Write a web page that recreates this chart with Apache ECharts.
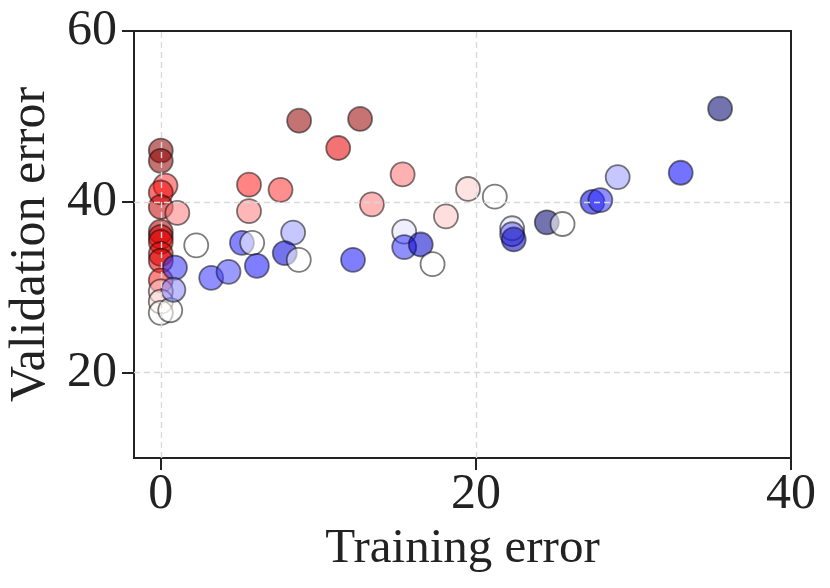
<!DOCTYPE html>
<html>
<head>
<meta charset="utf-8">
<script src="https://cdn.jsdelivr.net/npm/echarts@6/dist/echarts.min.js"></script>
<style>
  html, body { margin: 0; padding: 0; background: #fff; }
  #chart { width: 830px; height: 588px; }
</style>
</head>
<body>
<div id="chart"></div>
<script>
// training error, validation error, colour position on the seismic map (0 navy .. 0.5 white .. 1 dark red)
const trainErr = [
  0, 0, 0.3, 0, 0, 1.05, 0, 0, 0, 0, 0, 0, 0, 0, 0, 0.6, 0.9, 0.8,
  2.25, 3.2, 4.3, 5.15, 5.8, 6.1, 5.6, 5.6, 7.6, 8.78, 12.65, 11.26,
  15.35, 13.4, 19.5, 21.2, 18.1, 8.4, 7.87, 8.76, 12.2, 15.45, 15.45,
  16.5, 17.25, 35.5, 33.0, 29.0, 27.4, 27.9, 22.3, 22.3, 22.4, 24.5, 25.5
];
const validErr = [
  46.0, 44.8, 41.9, 41.1, 39.4, 38.7, 36.5, 35.9, 35.3, 33.9, 33.1, 30.8, 29.5, 28.3, 27.0, 27.3, 32.3, 29.7,
  34.9, 31.1, 31.8, 35.2, 35.2, 32.5, 42.0, 38.9, 41.4, 49.5, 49.7, 46.3,
  43.2, 39.7, 41.5, 40.6, 38.3, 36.4, 34.0, 33.2, 33.2, 36.5, 34.7,
  35.0, 32.7, 50.9, 43.4, 42.9, 40.0, 40.2, 36.9, 36.2, 35.6, 37.6, 37.4
];
const shade = [
  0.97, 0.96, 0.7, 0.78, 0.86, 0.63, 0.9, 0.82, 0.8, 0.8, 0.82, 0.72, 0.56, 0.53, 0.5, 0.5, 0.3, 0.38,
  0.5, 0.3, 0.32, 0.28, 0.5, 0.27, 0.72, 0.63, 0.7, 0.96, 0.95, 0.8,
  0.64, 0.63, 0.55, 0.5, 0.56, 0.4, 0.2, 0.5, 0.27, 0.47, 0.3,
  0.18, 0.5, 0.05, 0.25, 0.4, 0.22, 0.3, 0.47, 0.35, 0.15, 0.05, 0.5
];
const xTicks = [0, 20, 40];
const yTicks = [20, 40, 60];
const xGrid = [0, 20];
const yGrid = [20, 40];

const points = trainErr.map((x, i) => [x, validErr[i], shade[i]]);

const font = '"Liberation Serif", "DejaVu Serif", serif';
const ink = '#222';

let myChart = echarts.init(document.getElementById('chart'));
let option = {
    animation: false,
    textStyle: { fontFamily: font },
    grid: {
        left: 134, right: 39, top: 31, bottom: 130,
        outerBoundsMode: 'none',
        containLabel: false,
        show: true, borderColor: ink, borderWidth: 2, backgroundColor: 'transparent'
    },
    visualMap: {
        show: false,
        type: 'continuous',
        dimension: 2,
        min: 0,
        max: 1,
        seriesIndex: 1,
        inRange: { color: ['#00004c', '#0000ff', '#ffffff', '#ff0000', '#7f0000'] }
    },
    xAxis: {
        type: 'value',
        min: -1.7,
        max: 40,
        name: 'Training error',
        nameLocation: 'middle',
        nameGap: 60,
        nameTextStyle: { fontSize: 49, color: ink, fontFamily: font },
        axisLine: { show: true, onZero: false, lineStyle: { color: ink, width: 2 } },
        axisTick: { show: true, customValues: xTicks, length: 12, lineStyle: { color: ink, width: 2 } },
        axisLabel: { customValues: xTicks, fontSize: 50, color: ink, margin: 12, fontFamily: font },
        splitLine: { show: false }
    },
    yAxis: {
        type: 'value',
        min: 10,
        max: 60,
        name: 'Validation error',
        nameLocation: 'middle',
        nameGap: 78,
        nameTextStyle: { fontSize: 50, color: ink, fontFamily: font },
        axisLine: { show: true, onZero: false, lineStyle: { color: ink, width: 2 } },
        axisTick: { show: true, customValues: yTicks, length: 12, lineStyle: { color: ink, width: 2 } },
        axisLabel: { customValues: yTicks, fontSize: 50, color: ink, margin: 17, fontFamily: font },
        splitLine: { show: false }
    },
    series: [
        {
            // dashed grid lines
            type: 'scatter',
            data: [],
            z: 1,
            markLine: {
                silent: true,
                symbol: 'none',
                label: { show: false },
                lineStyle: { color: '#d9d9d9', width: 1.4, type: [6, 4] },
                data: xGrid.map(v => ({ xAxis: v })).concat(yGrid.map(v => ({ yAxis: v })))
            }
        },
        {
            type: 'scatter',
            z: 3,
            symbolSize: 24,
            data: points,
            itemStyle: { opacity: 0.55, borderColor: '#111', borderWidth: 1.8 }
        }
    ]
};
myChart.setOption(option);
</script>
</body>
</html>
